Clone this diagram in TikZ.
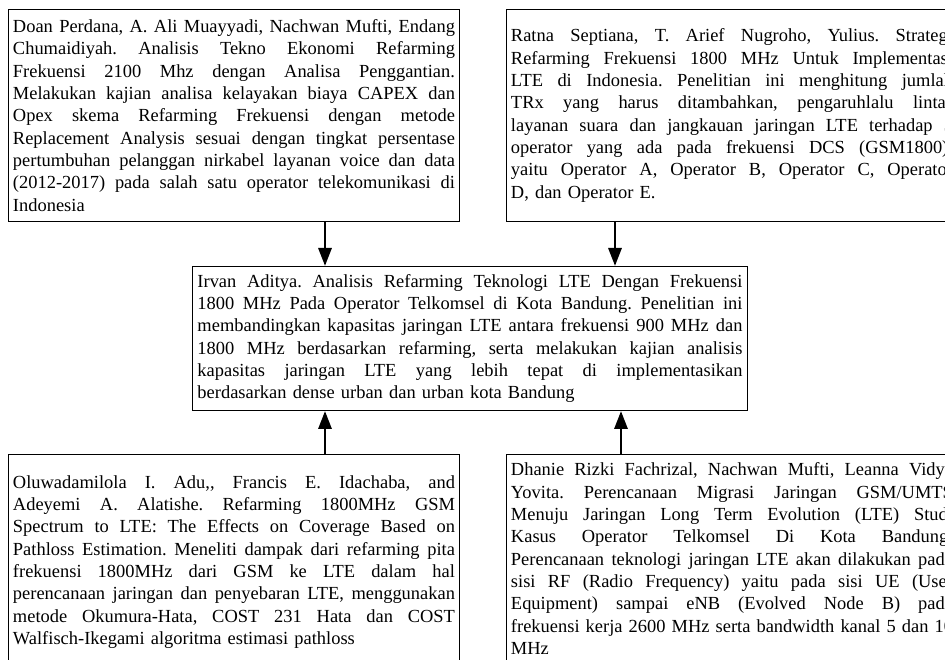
\documentclass[tikz,border=0pt]{standalone}
\usepackage{fontspec}
\setmainfont{Liberation Serif}
\usetikzlibrary{arrows.meta}

% one justified line of a box
\newcommand{\jl}[2][8.84cm]{\makebox[#1][s]{\spaceskip=0pt\xspaceskip=0pt #2}}

\tikzset{
  refbox/.style={draw, line width=0.55pt, anchor=north west, inner xsep=0.09cm,
    inner ysep=0.1cm, align=left, font=\fontsize{10.5}{12.7}\selectfont\frenchspacing},
  tebal/.style={line width=1.7pt, -{Triangle[length=0.36cm,width=0.26cm]}}
}

\begin{document}
\begin{tikzpicture}
\useasboundingbox (0,0) rectangle (18.9,13.2);
\clip (0,0) rectangle (18.9,13.2);
% top row
\node[refbox, text width=8.84cm, minimum height=4.24cm] (perdana) at (0.16,13.02) {%
\jl{Doan Perdana, A. Ali Muayyadi, Nachwan Mufti, Endang}\\
\jl{Chumaidiyah. Analisis Tekno Ekonomi Refarming}\\
\jl{Frekuensi 2100 Mhz dengan Analisa Penggantian.}\\
\jl{Melakukan kajian analisa kelayakan biaya CAPEX dan}\\
\jl{Opex skema Refarming Frekuensi dengan metode}\\
\jl{Replacement Analysis sesuai dengan tingkat persentase}\\
\jl{pertumbuhan pelanggan nirkabel layanan voice dan data}\\
\jl{(2012-2017) pada salah satu operator telekomunikasi di}\\
Indonesia};
\node[refbox, text width=8.84cm, minimum height=4.24cm] (septiana) at (10.12,13.02) {%
\jl{Ratna Septiana, T. Arief Nugroho, Yulius. Strategi}\\
\jl{Refarming Frekuensi 1800 MHz Untuk Implementasi}\\
\jl{LTE di Indonesia. Penelitian ini menghitung jumlah}\\
\jl{TRx yang harus ditambahkan, pengaruhlalu lintas}\\
\jl{layanan suara dan jangkauan jaringan LTE terhadap 5}\\
\jl{operator yang ada pada frekuensi DCS (GSM1800),}\\
\jl{yaitu Operator A, Operator B, Operator C, Operator}\\
D, dan Operator E.};
% middle
\node[refbox, text width=10.9cm, inner xsep=0.1cm, minimum height=2.88cm] (irvan) at (3.84,7.88) {%
\jl[10.9cm]{Irvan Aditya. Analisis Refarming Teknologi LTE Dengan Frekuensi}\\
\jl[10.9cm]{1800 MHz Pada Operator Telkomsel di Kota Bandung. Penelitian ini}\\
\jl[10.9cm]{membandingkan kapasitas jaringan LTE antara frekuensi 900 MHz dan}\\
\jl[10.9cm]{1800 MHz berdasarkan refarming, serta melakukan kajian analisis}\\
\jl[10.9cm]{kapasitas jaringan LTE yang lebih tepat di implementasikan}\\
berdasarkan dense urban dan urban kota Bandung};
% bottom row
\node[refbox, text width=8.84cm, minimum height=4.3cm] (adu) at (0.16,4.12) {%
\jl{Oluwadamilola I. Adu,{},  Francis E. Idachaba, and}\\
\jl{Adeyemi A. Alatishe. Refarming 1800MHz GSM}\\
\jl{Spectrum to LTE: The Effects on Coverage Based on}\\
\jl{Pathloss Estimation. Meneliti dampak dari refarming pita}\\
\jl{frekuensi 1800MHz dari GSM ke LTE dalam hal}\\
\jl{perencanaan jaringan dan penyebaran LTE, menggunakan}\\
\jl{metode Okumura-Hata, COST 231 Hata dan COST}\\
Walfisch-Ikegami algoritma estimasi pathloss};
\node[refbox, text width=8.84cm, inner ysep=0.17cm] (dhanie) at (10.12,4.12) {%
\jl{Dhanie Rizki Fachrizal, Nachwan Mufti, Leanna Vidya}\\
\jl{Yovita. Perencanaan Migrasi Jaringan GSM/UMTS}\\
\jl{Menuju Jaringan Long Term Evolution (LTE) Studi}\\
\jl{Kasus Operator Telkomsel Di Kota Bandung.}\\
\jl{Perencanaan teknologi jaringan LTE akan dilakukan pada}\\
\jl{sisi RF (Radio Frequency) yaitu pada sisi UE (User}\\
\jl{Equipment) sampai eNB (Evolved Node B) pada}\\
\jl{frekuensi kerja 2600 MHz serta bandwidth kanal 5 dan 10}\\
MHz};
% arrows
\coordinate (kiri) at (6.5,0);
\coordinate (kanan) at (12.3,0);
\coordinate (kanan2) at (12.42,0);
\draw[tebal] (perdana.south -| kiri) -- (irvan.north -| kiri);
\draw[tebal] (septiana.south -| kanan) -- (irvan.north -| kanan);
\draw[tebal] (adu.north -| kiri) -- (irvan.south -| kiri);
\draw[tebal] (dhanie.north -| kanan2) -- (irvan.south -| kanan2);
\end{tikzpicture}
\end{document}
